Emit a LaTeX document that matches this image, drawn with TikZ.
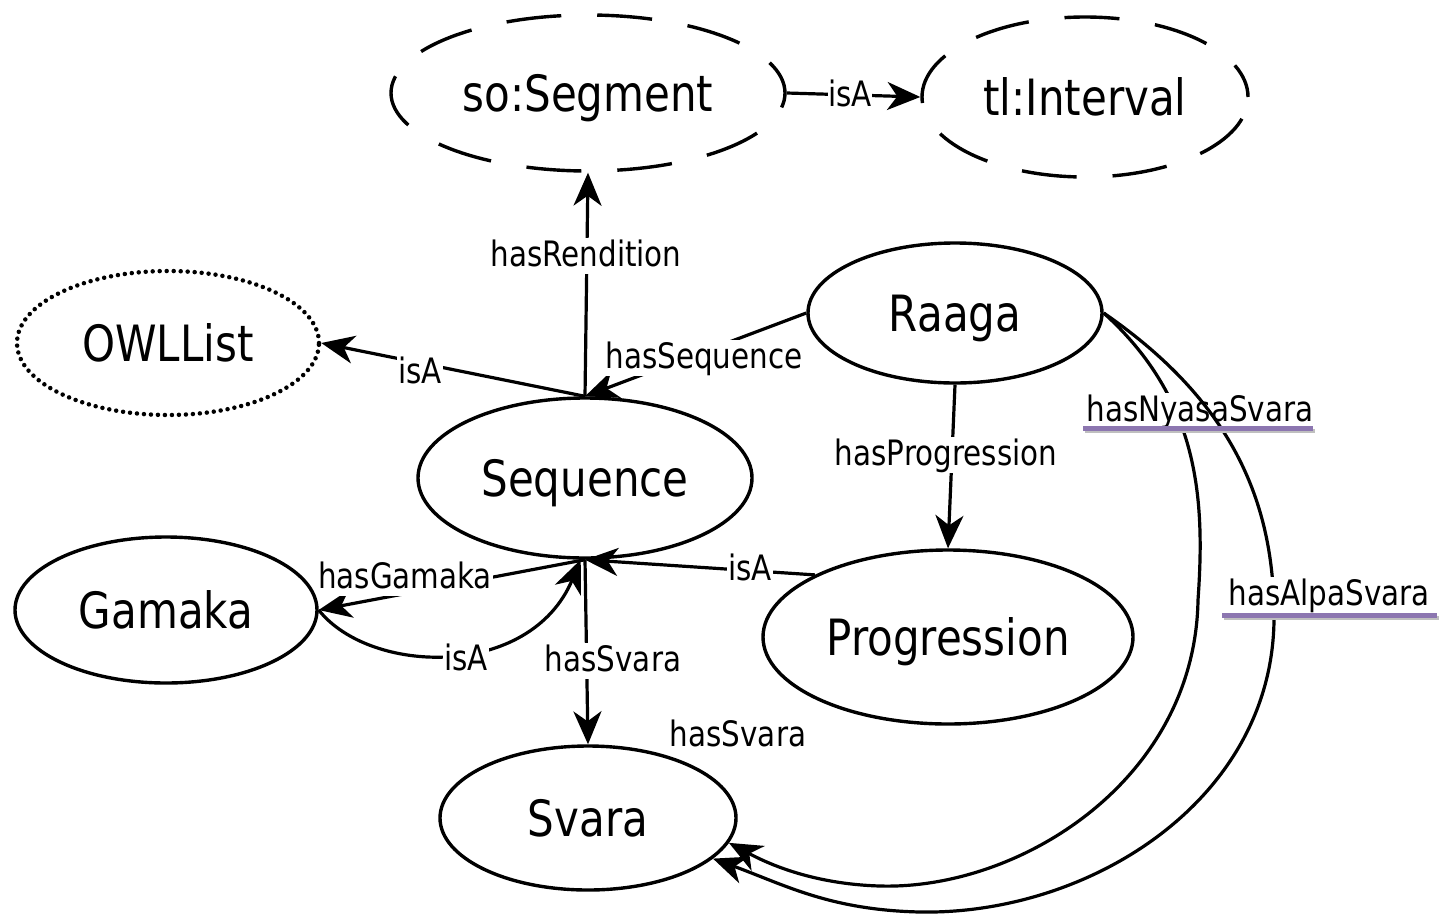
\documentclass[tikz,border=0pt]{standalone}
\usepackage{fontspec}
\setmainfont{DejaVu Sans}[FakeStretch=0.84]
\usetikzlibrary{shapes.geometric,arrows.meta}
\definecolor{ulpurple}{HTML}{8C76B0}
\begin{document}
\begin{tikzpicture}[x=1pt,y=-1pt,
  cls/.style={ellipse, draw, line width=3.4pt, inner sep=0pt, text height=36pt, text depth=0pt,
    font=\fontsize{50}{55}\selectfont},
  lbl/.style={font=\fontsize{35}{40}\selectfont, fill=white, inner sep=1pt, text height=27pt, text depth=7pt},
  rel/.style={line width=3.2pt, -{Stealth[length=33pt,width=28pt,inset=10pt]}},
  dashedcls/.style={dash pattern=on 55pt off 36pt, dash phase=20pt},
  dottedcls/.style={line cap=round, dash pattern=on 0pt off 7pt},
  underl/.style={line width=5pt, ulpurple},
  ulshadow/.style={line width=4pt, black!25},
]
\useasboundingbox (0,0) rectangle (1439,916);

% classes
\node[cls, dashedcls, minimum width=394pt, minimum height=156pt] (seg) at (588,93) {so:Segment};
\node[cls, dashedcls, minimum width=326pt, minimum height=160pt] (int) at (1085,97) {tl:Interval};
\node[cls, dottedcls, line width=4.5pt, minimum width=302pt, minimum height=144pt] (owl) at (168,343) {OWLList};
\node[cls, minimum width=294pt, minimum height=140pt] (raa) at (955,313) {Raaga};
\node[cls, minimum width=334pt, minimum height=160pt] (seq) at (585,478) {Sequence};
\node[cls, minimum width=302pt, minimum height=146pt] (gam) at (166,610) {Gamaka};
\node[cls, minimum width=370pt, minimum height=174pt] (pro) at (948,637) {Progression};
\node[cls, minimum width=296pt, minimum height=144pt] (sva) at (588,818) {Svara};

% relations
\draw[rel] (seg.east) -- (int.west);
\node[lbl, inner sep=0pt] (lisa0) at (850,96) {isA};

\draw[rel] (seq.north) -- (seg.south);
\node[lbl] (lren) at (586,256) {hasRendition};

\draw[rel] (seq.north) -- (owl.east);
\node[lbl] (lisa1) at (420,373) {isA};

\draw[rel] (raa.west) -- (seq.north);
\node[lbl] (lseq) at (704,358) {hasSequence};

\draw[rel] (raa.south) -- (pro.north);
\node[lbl] (lpro) at (946,455) {hasProgression};

\draw[rel] (seq.south) -- (gam.east);
\node[lbl] (lgam) at (405,578) {hasGamaka};

\draw[rel] (pro.155) -- (seq.south);
\node[lbl] (lisa2) at (750,570) {isA};

\draw[rel] (gam.east) .. controls (370,675) and (530,680) .. (seq.-93);
\node[lbl] (lisa3) at (466,660) {isA};

\draw[rel] (seq.south) -- (sva.north);
\node[lbl] (lsva) at (613,661) {hasSvara};

\node[lbl, fill=none] (lsva2) at (738,736) {hasSvara};

% Raaga -> Svara curves
\draw[rel] (raa.east) .. controls (1200,400) and (1205,500) .. (1198,600)
   .. controls (1195,780) and (1020,890) .. (880,886)
   .. controls (810,884) and (765,862) .. (sva.-10);
\node[lbl] (lnya) at (1200,411) {hasNyasaSvara};

\draw[rel] (raa.east) .. controls (1230,400) and (1275,500) .. (1274,620)
   .. controls (1272,800) and (1090,915) .. (920,912)
   .. controls (830,910) and (785,885) .. (sva.-18);
\node[lbl] (lalp) at (1329,595) {hasAlpaSvara};

% underlines
\draw[ulshadow] (1085,431) -- (1315,431);
\draw[underl] (1083,428) -- (1313,428);
\draw[ulshadow] (1224,618) -- (1439,618);
\draw[underl] (1222,615) -- (1437,615);
\end{tikzpicture}
\end{document}
